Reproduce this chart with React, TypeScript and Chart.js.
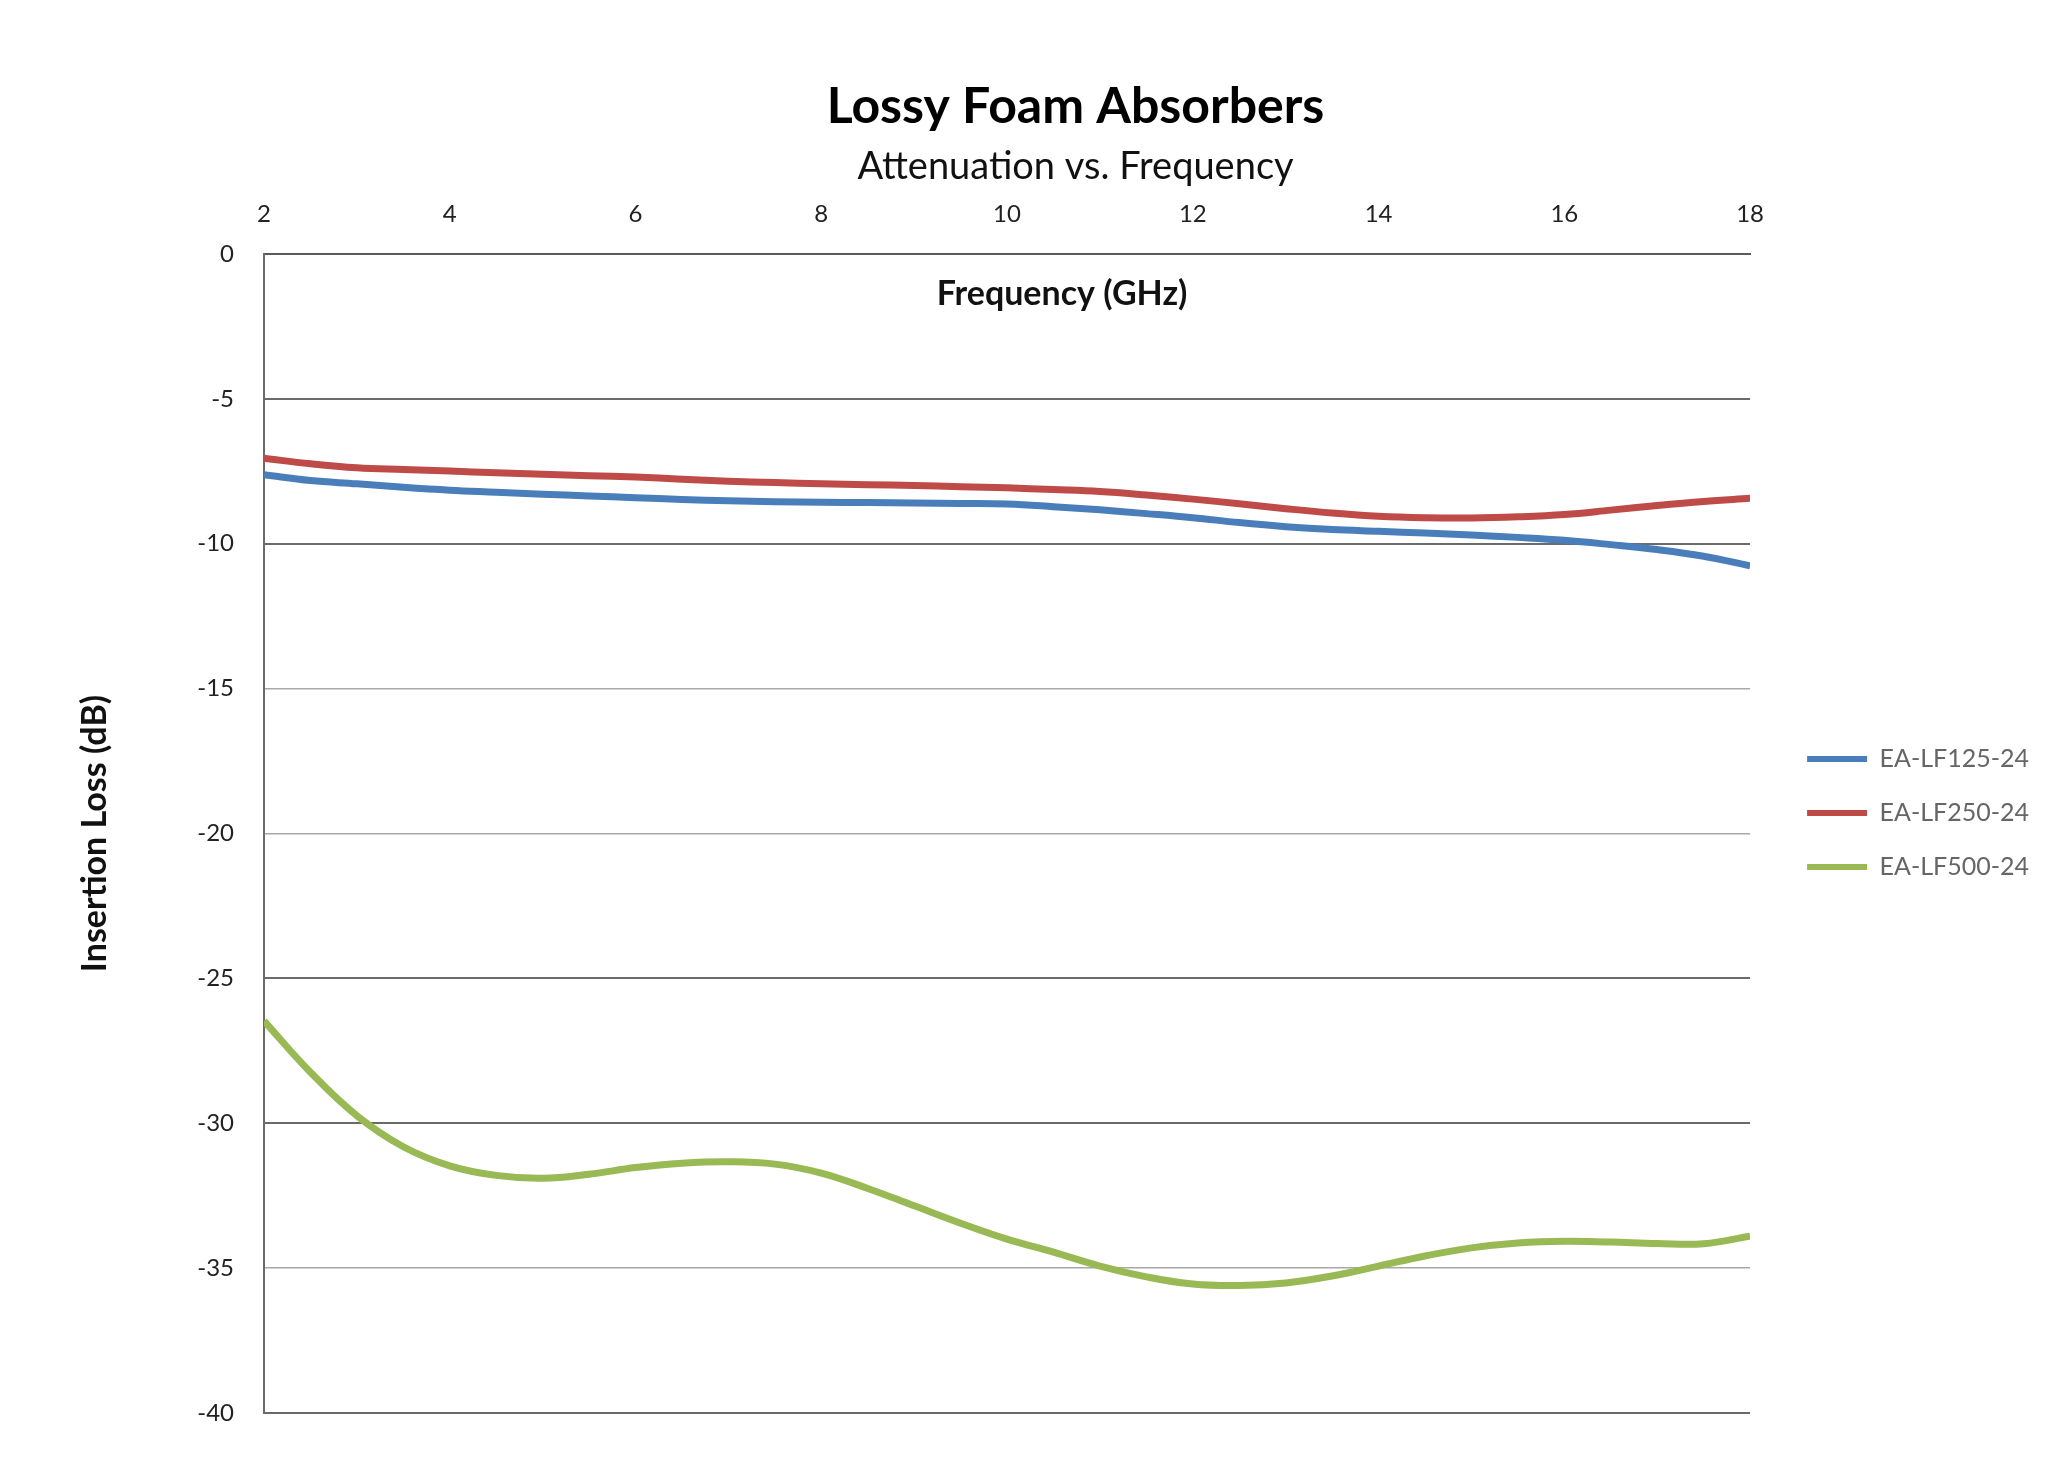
import { useRef, useEffect } from "react"
import React from "react"
import { Chart, registerables } from "chart.js"

Chart.register(...registerables)

const frequencies = [2, 2.5, 3, 3.5, 4, 4.5, 5, 5.5, 6, 6.5, 7, 7.5, 8, 8.5, 9, 9.5, 10, 10.5, 11, 11.5, 12, 12.5, 13, 13.5, 14, 14.5, 15, 15.5, 16, 16.5, 17, 17.5, 18]

const lf125 = [-7.62, -7.82, -7.93, -8.05, -8.15, -8.22, -8.29, -8.35, -8.41, -8.47, -8.52, -8.55, -8.57, -8.58, -8.59, -8.61, -8.63, -8.72, -8.83, -8.96, -9.1, -9.27, -9.41, -9.51, -9.57, -9.63, -9.7, -9.78, -9.88, -10.03, -10.2, -10.43, -10.76]
const lf250 = [-7.05, -7.24, -7.38, -7.44, -7.49, -7.55, -7.6, -7.65, -7.7, -7.77, -7.84, -7.89, -7.93, -7.96, -7.99, -8.03, -8.07, -8.13, -8.2, -8.32, -8.46, -8.62, -8.79, -8.94, -9.05, -9.1, -9.11, -9.07, -8.99, -8.84, -8.68, -8.54, -8.43]
const lf500 = [-26.47, -28.24, -29.74, -30.81, -31.47, -31.8, -31.9, -31.76, -31.53, -31.38, -31.33, -31.41, -31.72, -32.25, -32.85, -33.45, -34.0, -34.45, -34.93, -35.3, -35.55, -35.6, -35.51, -35.27, -34.93, -34.58, -34.3, -34.13, -34.07, -34.1, -34.15, -34.16, -33.9]

const seriesNames = ["EA-LF125-24", "EA-LF250-24", "EA-LF500-24"]
const seriesColors = ["#4A7EBB", "#BE4B48", "#98B954"]

const FONT = "Lato, 'Open Sans', sans-serif"

const toPoints = (values: number[]) => values.map((y, i) => ({ x: frequencies[i], y }))

// x axis title sits inside the plot, under the top border
const innerTitle = {
    id: "innerTitle",
    afterDraw(chart: Chart) {
        const { ctx, chartArea } = chart
        ctx.save()
        ctx.font = `bold 34px ${FONT}`
        ctx.fillStyle = "#111"
        ctx.textAlign = "center"
        ctx.textBaseline = "alphabetic"
        ctx.fillText("Frequency (GHz)", (chartArea.left + chartArea.right) / 2 + 55, chartArea.top + 51)
        ctx.restore()
    },
}

const App: React.FC = () => {
    const chartRef = useRef<HTMLCanvasElement>(null)
    const chartValueRef = useRef<Chart>()

    useEffect(() => {
        document.body.style.margin = "0"
        if (chartRef.current) {
            if (chartValueRef.current) {
                chartValueRef.current.destroy()
            }
            const ctx = chartRef.current.getContext("2d")
            if (ctx) {
                chartValueRef.current = new Chart(ctx, {
                    type: "line",
                    data: {
                        datasets: [lf125, lf250, lf500].map((values, i) => ({
                            label: seriesNames[i],
                            data: toPoints(values),
                            borderColor: seriesColors[i],
                            backgroundColor: seriesColors[i],
                            borderWidth: 7,
                            pointRadius: 0,
                            tension: 0.4,
                            fill: false,
                        })),
                    },
                    plugins: [innerTitle],
                    options: {
                        animation: false,
                        responsive: false,
                        devicePixelRatio: 1,
                        events: [],
                        layout: {
                            padding: { left: 112, right: 9, top: 0, bottom: 60 },
                        },
                        scales: {
                            x: {
                                type: "linear",
                                position: "top",
                                min: 2,
                                max: 18,
                                ticks: {
                                    stepSize: 2,
                                    padding: 17,
                                    color: "#222",
                                    font: { family: FONT, size: 24 },
                                },
                                grid: { display: false },
                                border: { display: true, color: "#5a5a5a", width: 2 },
                                afterFit: (scale: any) => {
                                    scale.height = 64.2
                                },
                            },
                            y: {
                                min: -40,
                                max: 0,
                                ticks: {
                                    stepSize: 5,
                                    padding: 30,
                                    color: "#222",
                                    font: { family: FONT, size: 24 },
                                },
                                grid: {
                                    drawTicks: false,
                                    color: (c: any) => ([-15, -20, -35].includes(c.tick?.value) ? "#a8a8a8" : "#6a6a6a"),
                                    lineWidth: (c: any) => ([-15, -20, -35].includes(c.tick?.value) ? 1.5 : 2),
                                },
                                border: { display: true, color: "#6a6a6a", width: 2 },
                                title: {
                                    display: true,
                                    text: "Insertion Loss (dB)",
                                    color: "#111",
                                    font: { family: FONT, size: 34, weight: "bold" },
                                    padding: { top: -37.4, bottom: 0 },
                                },
                                afterFit: (scale: any) => {
                                    scale.width = 152
                                },
                            },
                            spacer: {
                                type: "linear",
                                position: "right",
                                display: true,
                                ticks: { display: false },
                                grid: { display: false },
                                border: { display: false },
                                afterFit: (scale: any) => {
                                    scale.width = 28
                                },
                            },
                        },
                        plugins: {
                            title: {
                                display: true,
                                text: "Lossy Foam Absorbers",
                                color: "#000",
                                font: { family: FONT, size: 50, weight: "bold" },
                                padding: { top: 77, bottom: 0 },
                            },
                            subtitle: {
                                display: true,
                                text: "Attenuation vs. Frequency",
                                color: "#111",
                                font: { family: FONT, size: 38 },
                                padding: { top: 7.2, bottom: 0 },
                            },
                            legend: {
                                position: "right",
                                align: "start",
                                fullSize: false,
                                title: { display: true, text: "", padding: { top: 449, bottom: 0 } },
                                labels: {
                                    boxWidth: 60,
                                    boxHeight: 6,
                                    padding: 29,
                                    color: "#000",
                                    font: { family: FONT, size: 25 },
                                    generateLabels: (chart: Chart) =>
                                        chart.data.datasets.map((ds, i) => ({
                                            text: ds.label as string,
                                            fillStyle: seriesColors[i],
                                            strokeStyle: seriesColors[i],
                                            lineWidth: 0,
                                            hidden: false,
                                            datasetIndex: i,
                                        })),
                                },
                            },
                            tooltip: { enabled: false },
                        },
                    },
                })
            }
        }

        return () => {
            if (chartValueRef.current) {
                chartValueRef.current.destroy()
            }
        }
    }, [])

    return (
        <div style={{ width: 2048, height: 1473, background: "#fff" }}>
            <canvas ref={chartRef} width={2048} height={1473} style={{ width: 2048, height: 1473 }} />
        </div>
    )
}

export default App
